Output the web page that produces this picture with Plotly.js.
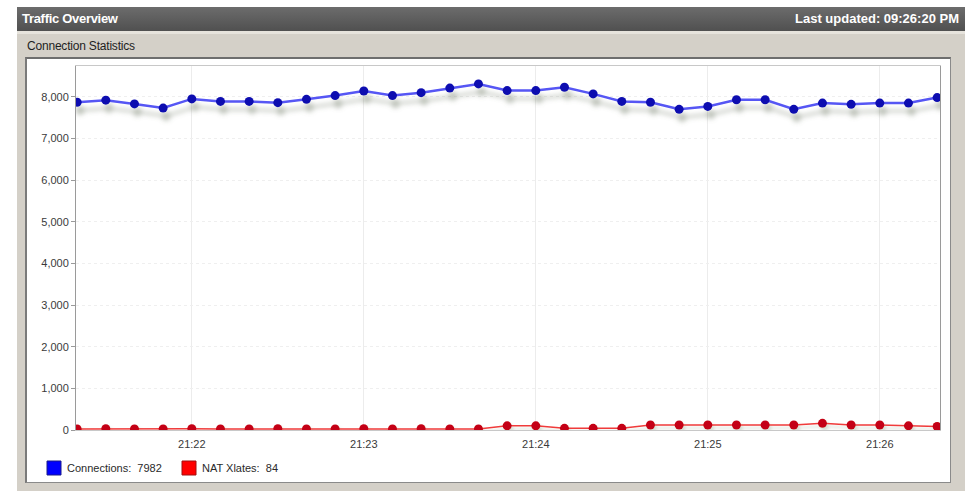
<!DOCTYPE html>
<html>
<head>
<meta charset="utf-8">
<script src="https://cdn.plot.ly/plotly-3.0.1.min.js"></script>
<style>
  html, body { margin: 0; padding: 0; background: #ffffff; }
  #stage { position: relative; width: 965px; height: 491px; overflow: hidden; font-family: "Liberation Sans", Arial, sans-serif; }
  #frame { position: absolute; left: 17px; top: 7px; width: 948px; height: 484px; background: #d4d0c8; }
  #header { position: absolute; left: 17px; top: 7px; width: 948px; height: 24px; overflow: hidden;
            background: linear-gradient(#6c6c6c, #505050); }
  #header .l { position: absolute; left: 5px; top: 4px; color: #ffffff; font-weight: bold; font-size: 13px; white-space: nowrap; letter-spacing: -0.3px; }
  #header .r { position: absolute; left: 778px; top: 4px; color: #ffffff; font-weight: bold; font-size: 13px; white-space: nowrap; }
  #hl { position: absolute; left: 17px; top: 31px; width: 948px; height: 3px; background: #e6e3dc; }
  #sub { position: absolute; left: 27px; top: 39px; color: #1e1e1e; font-size: 12px; white-space: nowrap; letter-spacing: -0.2px; }
  #panel { position: absolute; left: 25px; top: 57px; width: 923px; height: 423px; background: #ffffff;
           border: 1px solid #8a8a8a; border-top: 2px solid #6e6e6e; border-left: 2px solid #7a7a7a; }
  #chart { position: absolute; left: 0; top: 0; width: 965px; height: 491px; }
</style>
</head>
<body>
<div id="stage">
  <div id="frame"></div>
  <div id="header"><span class="l">Traffic Overview</span><span class="r">Last updated: 09:26:20 PM</span></div>
  <div id="hl"></div>
  <div id="sub">Connection Statistics</div>
  <div id="panel"></div>
  <div id="chart"></div>
</div>
<script>
// ---- data ----
const day = "2024-01-01";
const times = [
  "21:21:20","21:21:30","21:21:40","21:21:50","21:22:00","21:22:10","21:22:20","21:22:30",
  "21:22:40","21:22:50","21:23:00","21:23:10","21:23:20","21:23:30","21:23:40","21:23:50",
  "21:24:00","21:24:10","21:24:20","21:24:30","21:24:40","21:24:50","21:25:00","21:25:10",
  "21:25:20","21:25:30","21:25:40","21:25:50","21:26:00","21:26:10","21:26:20"
];
const connections = [
  7870, 7920, 7830, 7730, 7950, 7890, 7890, 7860,
  7940, 8030, 8140, 8030, 8100, 8210, 8310, 8150,
  8150, 8230, 8070, 7890, 7870, 7700, 7770, 7930,
  7930, 7700, 7850, 7820, 7850, 7850, 7982
];
const natXlates = [
  25, 30, 25, 25, 30, 25, 25, 30,
  25, 25, 30, 25, 30, 25, 25, 100,
  100, 40, 40, 40, 120, 120, 120, 120,
  120, 120, 160, 120, 120, 100, 84
];
const seriesNames = ["Connections", "NAT Xlates"];
const yTickVals = [0, 1000, 2000, 3000, 4000, 5000, 6000, 7000, 8000];

const xs = times.map(t => day + " " + t);
const blueLine = "#5656f4", blueMarker = "#0c0cb0";
const redLine = "#f03a3a", redMarker = "#c40012";
const fontFam = "Liberation Sans, Arial, sans-serif";

const traces = [
  { x: xs, y: connections, type: "scatter", mode: "lines+markers", name: seriesNames[0],
    line: { color: blueLine, width: 2.5 }, marker: { color: blueMarker, size: 9 }, showlegend: false },
  { x: xs, y: natXlates, type: "scatter", mode: "lines+markers", name: seriesNames[1],
    line: { color: redLine, width: 1.5 }, marker: { color: redMarker, size: 9 }, showlegend: false }
];

const lastC = connections[connections.length - 1];
const lastN = natXlates[natXlates.length - 1];

const layout = {
  width: 965, height: 491,
  margin: { l: 76, r: 25, t: 66, b: 61 },
  paper_bgcolor: "rgba(0,0,0,0)",
  plot_bgcolor: "#ffffff",
  font: { family: fontFam, size: 11, color: "#3a3a3a" },
  xaxis: {
    type: "date",
    range: [day + " 21:21:19.6", day + " 21:26:21"],
    tickformat: "%H:%M",
    dtick: 60000,
    tick0: day + " 21:22:00",
    showgrid: true, gridcolor: "#ececec", gridwidth: 1,
    showline: true, linecolor: "#c8c8c8", mirror: true,
    ticks: "", zeroline: false,
    tickfont: { size: 11, color: "#3a3a3a" },
    ticklabelstandoff: 4
  },
  yaxis: {
    range: [0, 8740],
    tickvals: yTickVals,
    tickformat: ",d",
    showgrid: true, gridcolor: "#efefef", gridwidth: 1, griddash: "dot",
    showline: true, linecolor: "#9a9a9a", mirror: true,
    ticks: "outside", ticklen: 4, tickcolor: "#9a9a9a",
    zeroline: false,
    tickfont: { size: 11, color: "#3a3a3a" }
  },
  shapes: [
    { type: "rect", xref: "paper", yref: "paper", xsizemode: "pixel", ysizemode: "pixel",
      xanchor: 0, yanchor: 0, x0: -29, x1: -15, y0: -45, y1: -31,
      fillcolor: "#0000ff", line: { color: "#1a1a8a", width: 1 } },
    { type: "rect", xref: "paper", yref: "paper", xsizemode: "pixel", ysizemode: "pixel",
      xanchor: 0, yanchor: 0, x0: 106, x1: 120, y0: -45, y1: -31,
      fillcolor: "#ff0000", line: { color: "#a01010", width: 1 } }
  ],
  annotations: [
    { xref: "paper", yref: "paper", x: 0, y: 0, xanchor: "left", yanchor: "middle",
      xshift: -11, yshift: -38, showarrow: false,
      text: seriesNames[0] + ":  " + lastC, font: { size: 11, color: "#2a2a2a" } },
    { xref: "paper", yref: "paper", x: 0, y: 0, xanchor: "left", yanchor: "middle",
      xshift: 124, yshift: -38, showarrow: false,
      text: seriesNames[1] + ":  " + lastN, font: { size: 11, color: "#2a2a2a" } }
  ]
};

Plotly.newPlot("chart", traces, layout, { staticPlot: true, displayModeBar: false }).then(() => {
  const svg = document.querySelector("#chart svg.main-svg");
  const ns = "http://www.w3.org/2000/svg";
  let defs = svg.querySelector("defs");
  if (!defs) { defs = document.createElementNS(ns, "defs"); svg.insertBefore(defs, svg.firstChild); }
  const mk = (id, dx, dy, blur, col, op) => {
    const f = document.createElementNS(ns, "filter");
    f.setAttribute("id", id);
    f.setAttribute("filterUnits", "userSpaceOnUse");
    f.setAttribute("x", "-200"); f.setAttribute("y", "-200");
    f.setAttribute("width", "1400"); f.setAttribute("height", "900");
    f.innerHTML =
      '<feGaussianBlur in="SourceAlpha" stdDeviation="' + blur + '" result="b"/>' +
      '<feOffset in="b" dx="' + dx + '" dy="' + dy + '" result="o"/>' +
      '<feFlood flood-color="' + col + '" flood-opacity="' + op + '"/>' +
      '<feComposite in2="o" operator="in" result="s"/>' +
      '<feMerge><feMergeNode in="s"/><feMergeNode in="SourceGraphic"/></feMerge>';
    defs.appendChild(f);
  };
  mk("shadowBlue", 3, 8, 2.5, "#6f7a66", 0.45);
  mk("shadowRed", 2, 3, 1.5, "#7a9070", 0.3);
  const tr = svg.querySelectorAll(".scatterlayer .trace");
  if (tr[0]) tr[0].setAttribute("filter", "url(#shadowBlue)");
  if (tr[1]) tr[1].setAttribute("filter", "url(#shadowRed)");
});
</script>
</body>
</html>
